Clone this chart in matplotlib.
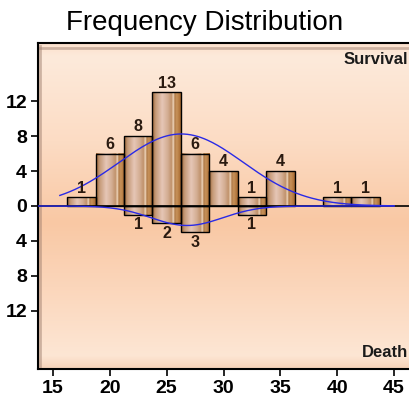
import numpy as np
import matplotlib
matplotlib.use('Agg')
from matplotlib import pyplot as plt, patches
from matplotlib.colors import LinearSegmentedColormap

# histogram bins (age), 2.5 wide
centers = [17.5, 20, 22.5, 25, 27.5, 30, 32.5, 35, 37.5, 40, 42.5]
survival = [1, 6, 8, 13, 6, 4, 1, 4, 0, 1, 1]
death = [0, 0, 1, 2, 3, 0, 1, 0, 0, 0, 0]
binw = 2.5
xticks = [15, 20, 25, 30, 35, 40, 45]
yticks = [-12, -8, -4, 0, 4, 8, 12]

bold = ['Liberation Sans', 'DejaVu Sans']

fig = plt.figure(figsize=(4.1, 4.0), dpi=100)
ax = fig.add_axes([38 / 410, 31 / 400, 374 / 410, 326 / 400])
ax.set_xlim(13.68, 46.58)
ax.set_ylim(-18.63, 18.63)

# background gradient (top -> bottom)
bg = LinearSegmentedColormap.from_list('bg', [
    (0.0, '#fbe0cc'), (0.04, '#fdeadb'), (0.3, '#fcdcc4'), (0.55, '#f9c8a4'),
    (0.75, '#fbd6bb'), (0.96, '#fde6d4'), (1.0, '#f6d2b8')])
grad = np.linspace(0, 1, 256).reshape(-1, 1)
ax.imshow(grad, cmap=bg, aspect='auto', extent=[0, 1, 0, 1], transform=ax.transAxes, zorder=0)
# bevel
ax.plot([0.006, 0.006], [0.01, 0.99], transform=ax.transAxes, color='#a08070', lw=2, alpha=0.5, zorder=1)
ax.plot([0.006, 1], [0.985, 0.985], transform=ax.transAxes, color='#a08070', lw=2, alpha=0.5, zorder=1)

# wood texture for bars
wood = LinearSegmentedColormap.from_list('wood', [
    (0.0, '#9c6535'), (0.12, '#c59a78'), (0.35, '#e6c6b6'), (0.55, '#d3ad92'),
    (0.68, '#c0916a'), (0.74, '#f0d8c0'), (0.8, '#b07a48'), (0.86, '#c8925a'),
    (1.0, '#a86a30')])
wgrad = np.linspace(0, 1, 64).reshape(1, -1)


def draw_bar(xc, h):
    x0 = xc - binw / 2
    y0, y1 = (0, h) if h > 0 else (h, 0)
    ax.imshow(wgrad, cmap=wood, aspect='auto', extent=[x0, x0 + binw, y0, y1], zorder=2)
    ax.add_patch(patches.Rectangle((x0, y0), binw, y1 - y0, fill=False, ec='black', lw=1, zorder=3))


for xc, s, d in zip(centers, survival, death):
    if s:
        draw_bar(xc, s)
        ax.text(xc, s + 0.2, str(s), ha='center', va='bottom', fontsize=11.5, fontweight='bold',
                family=bold, color='#2a1a10', zorder=5)
    if d:
        draw_bar(xc, -d)
        ax.text(xc, -d - 0.3, str(d), ha='center', va='top', fontsize=11.5, fontweight='bold',
                family=bold, color='#2a1a10', zorder=5)

ax.axhline(0, color='black', lw=1.2, zorder=3)

# fitted normal curves
def normal_curve(counts, xs):
    vals = np.repeat(centers, counts)
    m, sd = vals.mean(), vals.std(ddof=1)
    return len(vals) * binw / (sd * np.sqrt(2 * np.pi)) * np.exp(-0.5 * ((xs - m) / sd) ** 2)

xs1 = np.linspace(15.6, 45, 200)
ax.plot(xs1, normal_curve(survival, xs1), color='#2a2ae6', lw=1, zorder=4)
xs2 = np.linspace(13.68, 45, 200)
ax.plot(xs2, -normal_curve(death, xs2), color='#2a2ae6', lw=1, zorder=4)

fig.text(408 / 410, 1 - 52 / 400, 'Survival', ha='right', va='top', fontsize=12,
         fontweight='bold', family=bold, color='#1a1a1a')
fig.text(408 / 410, 1 - 360 / 400, 'Death', ha='right', va='bottom', fontsize=12,
         fontweight='bold', family=bold, color='#1a1a1a')

ax.set_xticks(xticks)
ax.set_yticks(yticks)
ax.set_yticklabels([str(abs(v)) for v in yticks])
ax.tick_params(length=5, width=1.2, direction='out', pad=3)
for lab in ax.get_xticklabels() + ax.get_yticklabels():
    lab.set_fontsize(14)
    lab.set_fontweight('bold')
    lab.set_family(bold)
for sp in ax.spines.values():
    sp.set_linewidth(1.5)

fig.text(0.5, 0.975, 'Frequency Distribution', ha='center', va='top', fontsize=20,
         family=['Liberation Sans', 'DejaVu Sans'])

fig.savefig('out.png', dpi=100)
